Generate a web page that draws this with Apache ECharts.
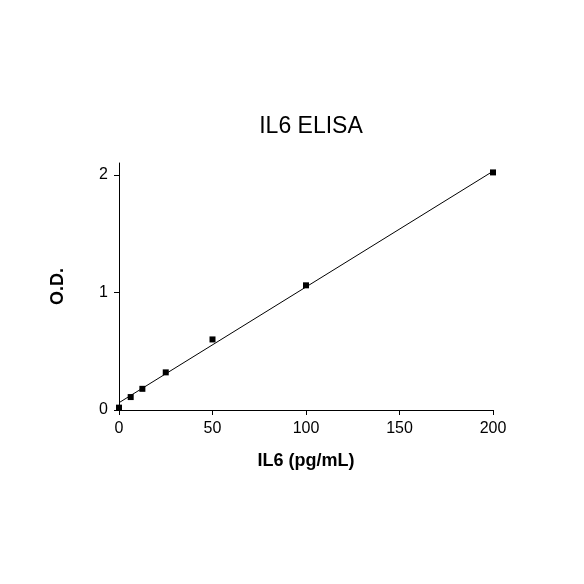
<!DOCTYPE html>
<html>
<head>
<meta charset="utf-8">
<script src="https://cdn.jsdelivr.net/npm/echarts@6/dist/echarts.min.js"></script>
<style>
  html, body { margin: 0; padding: 0; background: #fff; }
  #main { width: 584px; height: 584px; }
</style>
</head>
<body>
<div id="main"></div>
<script type="text/javascript">
// standard curve points (pg/mL, O.D.)
var conc = [0, 6.25, 12.5, 25, 50, 100, 200];
var od = [0.02, 0.11, 0.18, 0.32, 0.60, 1.06, 2.02];
// fitted line end points
var fitLine = [[0, 0.062], [200, 2.03]];
var xTicks = [0, 50, 100, 150, 200];
var yTicks = [0, 1, 2];

var points = conc.map(function (c, i) { return [c, od[i]]; });

var chart = echarts.init(document.getElementById('main'));
var font = 'Liberation Sans, Arial, sans-serif';

var option = {
    animation: false,
    backgroundColor: '#fff',
    title: {
        text: 'IL6 ELISA',
        left: 306,
        textAlign: 'center',
        top: 110,
        textStyle: { fontFamily: font, fontSize: 23, fontWeight: 'normal', color: '#000' }
    },
    grid: { left: 119, right: 91, top: 163, bottom: 174 },
    xAxis: {
        type: 'value',
        min: 0, max: 200, interval: 50,
        name: 'IL6 (pg/mL)',
        nameLocation: 'middle',
        nameGap: 42,
        nameTextStyle: { fontFamily: font, fontSize: 18, fontWeight: 'bold', color: '#000' },
        axisLine: { show: true, lineStyle: { color: '#000', width: 1 } },
        axisTick: { show: true, length: 5, lineStyle: { color: '#000' }, customValues: xTicks },
        axisLabel: { fontFamily: font, fontSize: 16, color: '#000', margin: 11, customValues: xTicks },
        splitLine: { show: false }
    },
    yAxis: {
        type: 'value',
        min: 0, max: 2.1,
        name: 'O.D.',
        nameLocation: 'middle',
        nameGap: 52,
        nameRotate: 90,
        nameTextStyle: { fontFamily: font, fontSize: 18, fontWeight: 'bold', color: '#000' },
        axisLine: { show: true, lineStyle: { color: '#000', width: 1 } },
        axisTick: { show: true, length: 5, lineStyle: { color: '#000' }, customValues: yTicks },
        axisLabel: { fontFamily: font, fontSize: 16, color: '#000', margin: 11, customValues: yTicks },
        splitLine: { show: false }
    },
    series: [{
        type: 'line',
        data: fitLine,
        symbol: 'none',
        lineStyle: { color: '#000', width: 1 },
        silent: true
    }, {
        type: 'scatter',
        data: points,
        symbol: 'rect',
        symbolSize: 6,
        itemStyle: { color: '#000', opacity: 1 }
    }]
};
chart.setOption(option);
</script>
</body>
</html>
